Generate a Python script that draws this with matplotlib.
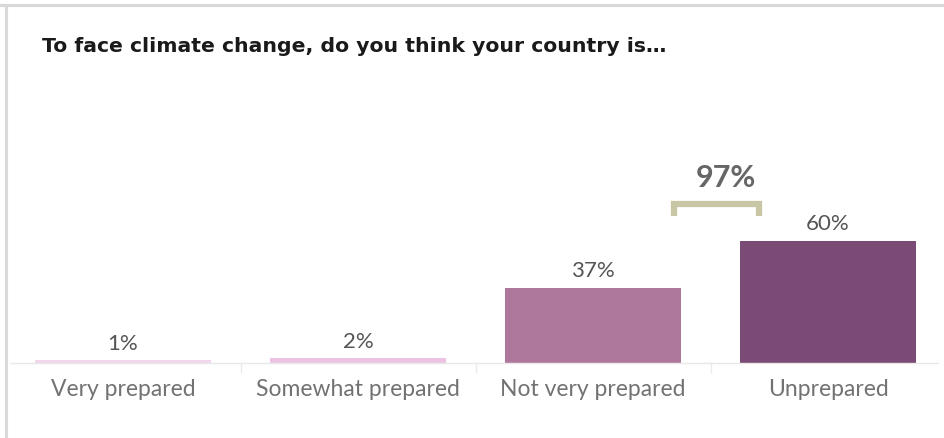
import matplotlib
matplotlib.use("Agg")
import matplotlib.pyplot as plt
from matplotlib.lines import Line2D

categories = ["Very prepared", "Somewhat prepared", "Not very prepared", "Unprepared"]
values = [1, 2, 37, 60]
bar_colors = ["#f2d6ea", "#edc3e3", "#ae789d", "#7b4b76"]
bracket_pair = (2, 3)  # "Not very prepared" + "Unprepared"

W, H = 945, 438
fig = plt.figure(figsize=(W / 100, H / 100), dpi=100)
fig.patch.set_facecolor("white")

# panel frame (top and left edges)
frame_col = "#d9d9d9"
fig.add_artist(Line2D([0, 1], [1 - 5 / H, 1 - 5 / H], color=frame_col, lw=2.2))
fig.add_artist(Line2D([6.5 / W, 6.5 / W], [0, 1 - 5 / H], color=frame_col, lw=2.2))

# plot area: baseline at 362.5 px from the top
ax = fig.add_axes([10 / W, (H - 362.5) / H, 928 / W, 262.5 / H])
ax.set_facecolor("none")
x = list(range(len(categories)))
ax.bar(x, values, width=0.75, color=bar_colors, zorder=2)
ax.set_xlim(-0.481, 3.468)
ax.set_ylim(0, 130.1)

for s in ["top", "right", "left"]:
    ax.spines[s].set_visible(False)
ax.spines["bottom"].set_color("#e8e8e8")
ax.spines["bottom"].set_linewidth(1.0)
ax.set_yticks([])
ax.set_xticks(x)
ax.set_xticklabels(categories, fontsize=16.5, color="#727272", family="Lato")
ax.tick_params(axis="x", length=0, pad=12)

# category dividers below the baseline
ax.vlines([i + 0.5 for i in x[:-1]], -5, 0, colors="#ebebeb", lw=1, clip_on=False)

# value labels
for xi, v in zip(x, values):
    ax.annotate(f"{v}%", (xi, v), xytext=(0, 5), textcoords="offset points",
                ha="center", va="bottom", fontsize=16, color="#555555",
                family="Lato")

# bracket with combined share
total = sum(values[i] for i in bracket_pair)
bx0, bx1 = 2.345, 2.706
by_top, by_leg = 78.6, 72.6
ax.plot([bx0, bx0, bx1, bx1], [by_leg, by_top, by_top, by_leg], color="#c9c6a5",
        lw=4.5, solid_joinstyle="miter", solid_capstyle="butt", zorder=3)
ax.text(2.566, 91.5, f"{total}%", ha="center", va="center",
        fontsize=22, fontweight="bold", color="#666666", family="Lato")

fig.text(42 / W, 1 - 46 / H, "To face climate change, do you think your country is…",
         ha="left", va="center", fontsize=14.7, fontweight="bold", color="#1a1a1a",
         family="DejaVu Sans")

fig.savefig("out.png", dpi=100, facecolor="white")
